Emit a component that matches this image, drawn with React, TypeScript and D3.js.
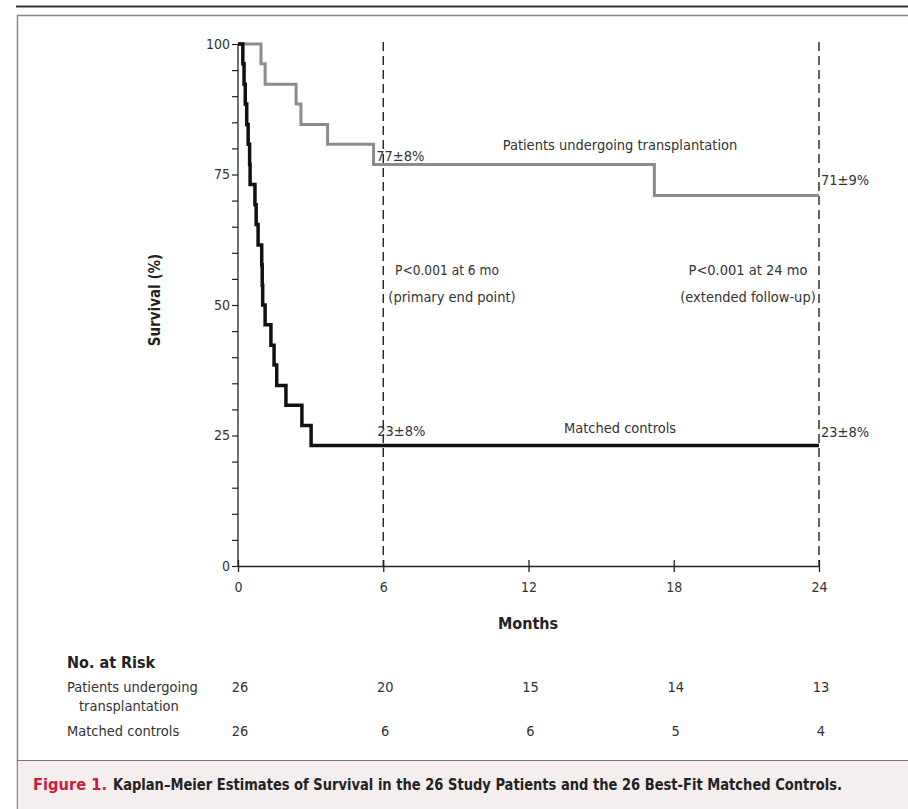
import { useEffect, useRef } from "react";
import * as d3 from "d3";

// Kaplan-Meier steps (months, survival %)
const transplantTimes = [0, 0.95, 1.12, 2.4, 2.6, 3.7, 5.6, 17.2, 24];
const transplantSurv = [100, 96.2, 92.3, 88.5, 84.6, 80.8, 76.9, 71.0, 71.0];

const controlTimes = [0, 0.2, 0.25, 0.3, 0.36, 0.42, 0.48, 0.5, 0.7, 0.75, 0.83, 0.98, 1.0, 1.02, 1.12, 1.36, 1.49, 1.6, 1.98, 2.64, 3.02, 24];
const controlSurv = [100, 96.2, 92.3, 88.5, 84.6, 80.8, 76.9, 73.1, 69.2, 65.4, 61.5, 57.7, 53.8, 50, 46.2, 42.3, 38.5, 34.6, 30.8, 26.9, 23.1, 23.1];

const monthTicks = [0, 6, 12, 18, 24];
const survTicks = [0, 25, 50, 75, 100];
const dashedAt = [6, 24];

const atRiskTransplant = [26, 20, 15, 14, 13];
const atRiskControls = [26, 6, 6, 5, 4];

const FONT = "'Liberation Sans Narrow', 'DejaVu Sans Condensed', 'Arial Narrow', sans-serif";

const App = () => {
  const ref = useRef<SVGSVGElement | null>(null);

  useEffect(() => {
    drawChart();
  }, []);

  const drawChart = () => {
    const svg = d3.select(ref.current);
    svg.selectAll("*").remove();

    const x = d3.scaleLinear().domain([0, 24]).range([238, 819]);
    const y = d3.scaleLinear().domain([0, 100]).range([566, 44]);

    // frame
    svg.append("line").attr("x1", 16).attr("x2", 908).attr("y1", 6.5).attr("y2", 6.5).attr("stroke", "#333").attr("stroke-width", 2);
    svg.append("line").attr("x1", 17).attr("x2", 908).attr("y1", 15.5).attr("y2", 15.5).attr("stroke", "#888").attr("stroke-width", 1.5);
    svg.append("line").attr("x1", 17.5).attr("x2", 17.5).attr("y1", 15).attr("y2", 809).attr("stroke", "#888").attr("stroke-width", 1.5);
    svg.append("rect").attr("x", 18).attr("y", 761).attr("width", 890).attr("height", 48).attr("fill", "#f4eeee");
    svg.append("line").attr("x1", 17).attr("x2", 908).attr("y1", 760.5).attr("y2", 760.5).attr("stroke", "#777").attr("stroke-width", 1.2);

    // dashed reference lines
    svg
      .selectAll("line.dash")
      .data(dashedAt)
      .join("line")
      .attr("class", "dash")
      .attr("x1", (d) => x(d))
      .attr("x2", (d) => x(d))
      .attr("y1", 42)
      .attr("y2", y(0))
      .attr("stroke", "#111")
      .attr("stroke-width", 1.3)
      .attr("stroke-dasharray", "9,5");

    // Y axis
    svg
      .append("g")
      .attr("transform", `translate(${x(0)},0)`)
      .call(
        d3
          .axisLeft(y)
          .tickValues(d3.range(0, 101, 5))
          .tickSize(6)
          .tickPadding(2)
          .tickFormat((d) => (survTicks.includes(d as number) ? String(d) : ""))
      )
      .call((g) => g.select(".domain").attr("d", `M0,${y(100)}V${y(0)}`).attr("stroke", "#222").attr("stroke-width", 1.3))
      .call((g) => g.selectAll(".tick line").attr("stroke", "#222").attr("stroke-width", 1.2))
      .style("font-family", FONT)
      .style("font-size", "14px")
      .style("color", "#333");

    // X axis
    svg
      .append("g")
      .attr("transform", `translate(0,${y(0)})`)
      .call(d3.axisBottom(x).tickValues(monthTicks).tickSize(6).tickPadding(10).tickSizeOuter(0))
      .call((g) => g.select(".domain").attr("stroke", "#222").attr("stroke-width", 1.5))
      .call((g) => g.selectAll(".tick line").attr("y1", -6).attr("y2", 6).attr("stroke", "#222").attr("stroke-width", 1.3))
      .style("font-family", FONT)
      .style("font-size", "14px")
      .style("color", "#333");

    // curves
    const line = d3
      .line<[number, number]>()
      .x((d) => x(d[0]))
      .y((d) => y(d[1]))
      .curve(d3.curveStepAfter);

    svg
      .append("path")
      .datum(transplantTimes.map((t, i) => [t, transplantSurv[i]] as [number, number]))
      .attr("d", line)
      .attr("fill", "none")
      .attr("stroke", "#8c8c8c")
      .attr("stroke-width", 3);

    svg
      .append("path")
      .datum(controlTimes.map((t, i) => [t, controlSurv[i]] as [number, number]))
      .attr("d", line)
      .attr("fill", "none")
      .attr("stroke", "#111")
      .attr("stroke-width", 3.5);

    const txt = (tx: number, ty: number, s: string, anchor = "start", size = 14.5, weight = "normal", fill = "#333", len = 0) => {
      const t = svg
        .append("text")
        .attr("x", tx)
        .attr("y", ty)
        .attr("text-anchor", anchor)
        .attr("font-size", size)
        .attr("font-weight", weight)
        .attr("fill", fill)
        .style("font-family", FONT)
        .text(s);
      if (len) t.attr("textLength", len).attr("lengthAdjust", "spacingAndGlyphs");
      return t;
    };

    // annotations
    txt(x(6) - 7, y(transplantSurv[6]) - 4, `${Math.round(transplantSurv[6])}±8%`);
    txt(620, 150, "Patients undergoing transplantation", "middle");
    txt(x(24) + 2, y(transplantSurv[7]) - 10, `${Math.round(transplantSurv[7])}±9%`);
    txt(447, 275, "P<0.001 at 6 mo", "middle", 14.5, "normal", "#333", 104);
    txt(452, 302, "(primary end point)", "middle");
    txt(748, 275, "P<0.001 at 24 mo", "middle");
    txt(748, 302, "(extended follow-up)", "middle");
    txt(x(6) - 6, y(controlSurv[20]) - 9, `${Math.round(controlSurv[20])}±8%`);
    txt(620, 433, "Matched controls", "middle");
    txt(x(24) + 2, y(controlSurv[20]) - 8, `${Math.round(controlSurv[20])}±8%`);

    // axis titles
    txt(528, 629, "Months", "middle", 16, "bold", "#222");
    svg
      .append("text")
      .attr("transform", `translate(160,300) rotate(-90)`)
      .attr("text-anchor", "middle")
      .attr("font-size", 15)
      .attr("font-weight", "bold")
      .attr("fill", "#222")
      .style("font-family", FONT)
      .text("Survival (%)");

    // number at risk
    txt(67, 668, "No. at Risk", "start", 16, "bold", "#222");
    txt(67, 692, "Patients undergoing");
    txt(79, 711, "transplantation");
    txt(67, 736, "Matched controls");
    monthTicks.forEach((m, i) => {
      txt(x(m) + 2, 692, String(atRiskTransplant[i]), "middle");
      txt(x(m) + 2, 736, String(atRiskControls[i]), "middle");
    });

    // caption
    txt(33, 790, "Figure 1.", "start", 15.5, "bold", "#c8203a", 74);
    txt(113, 790, "Kaplan–Meier Estimates of Survival in the 26 Study Patients and the 26 Best-Fit Matched Controls.", "start", 15.5, "bold", "#222", 729);
  };

  return (
    <svg
      ref={ref}
      width={908}
      height={809}
      style={{ position: "absolute", left: 0, top: 0, background: "#fff" }}
    />
  );
};

export default App;
